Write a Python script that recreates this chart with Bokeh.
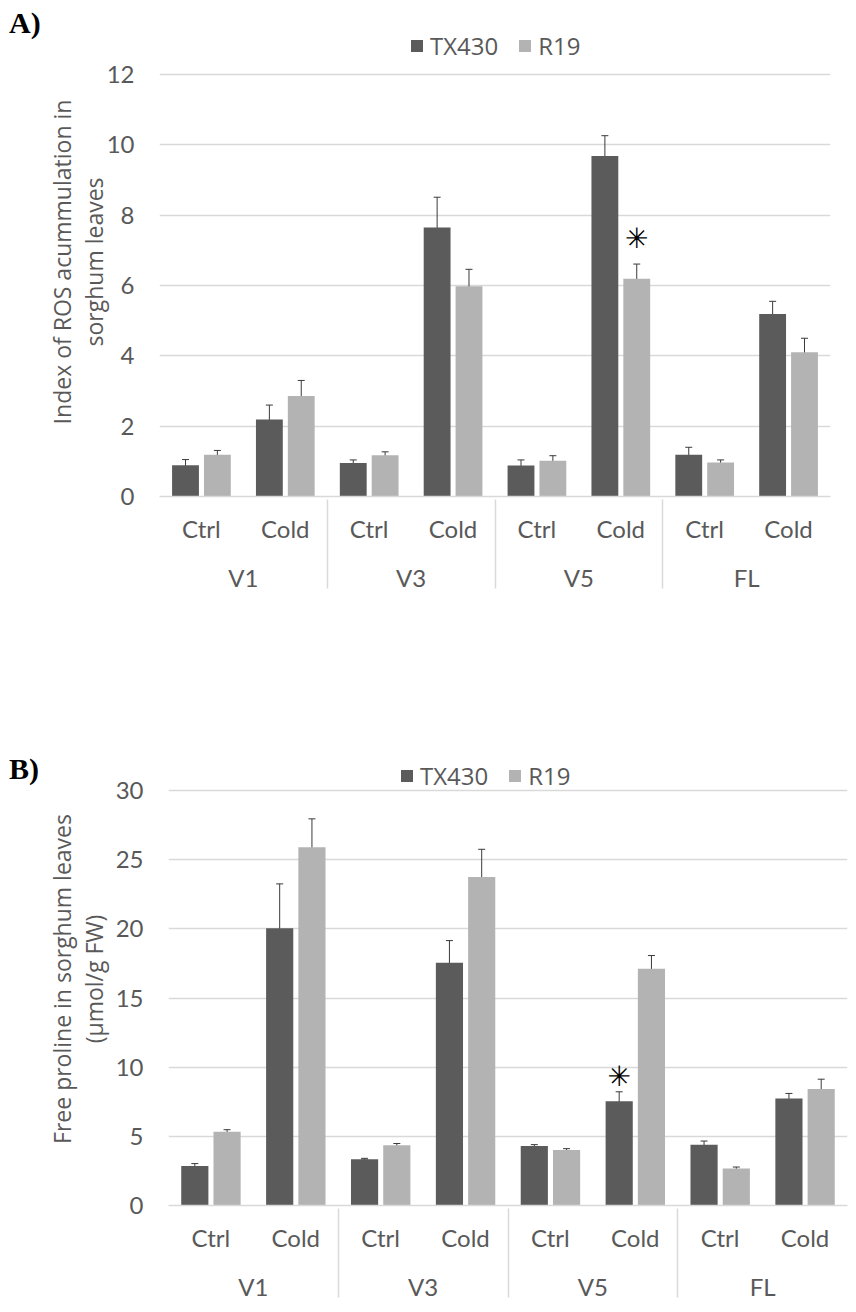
from bokeh.plotting import figure
from bokeh.models import (FactorRange, Range1d, Whisker, ColumnDataSource, Legend, LegendItem,
                          Div, FixedTicker, TeeHead)
from bokeh.transform import dodge
from bokeh.layouts import column, row
from bokeh.embed import file_html
from bokeh.resources import INLINE
from bokeh.core.properties import value

# ---------------- data ----------------
stages = ["V1", "V3", "V5", "FL"]
treatments = ["Ctrl", "Cold"]
series = ["TX430", "R19"]

ros_tx430 = [0.89, 2.19, 0.95, 7.65, 0.88, 9.68, 1.19, 5.19]
ros_tx430_err = [0.16, 0.41, 0.09, 0.86, 0.16, 0.58, 0.21, 0.36]
ros_r19 = [1.19, 2.86, 1.17, 5.98, 1.02, 6.19, 0.97, 4.10]
ros_r19_err = [0.12, 0.44, 0.10, 0.48, 0.14, 0.42, 0.07, 0.40]
ros_ticks = [0, 2, 4, 6, 8, 10, 12]
ros_sig = {"factor": ("V5", "Cold"), "series": "R19", "y": 7.35}

pro_tx430 = [2.85, 20.05, 3.35, 17.55, 4.30, 7.53, 4.39, 7.74]
pro_tx430_err = [0.18, 3.2, 0.06, 1.6, 0.10, 0.69, 0.27, 0.36]
pro_r19 = [5.34, 25.9, 4.35, 23.75, 4.01, 17.12, 2.68, 8.43]
pro_r19_err = [0.14, 2.05, 0.13, 2.0, 0.10, 0.95, 0.10, 0.70]
pro_ticks = [0, 5, 10, 15, 20, 25, 30]
pro_sig = {"factor": ("V5", "Cold"), "series": "TX430", "y": 9.3}

factors = [(s, t) for s in stages for t in treatments]

DARK = "#5b5b5b"
LIGHT = "#b3b3b3"
TXT = "#595959"
GRID = "#d9d9d9"
OFF = 0.19
BW = 0.32
TAG_W = 42


def make_panel(ylabel, tx, txe, r19, r19e, ticks, sig, fw, fh, ytop,
               br, bt, bb, leg_xy, ylab_standoff):
    p = figure(x_range=FactorRange(*factors, group_padding=0, factor_padding=0, range_padding=0),
               y_range=Range1d(ticks[0], ytop),
               frame_width=fw, frame_height=fh, output_backend="svg", toolbar_location=None,
               min_border_left=10, min_border_right=br,
               min_border_top=bt, min_border_bottom=bb)
    p.outline_line_color = None
    p.background_fill_color = "white"
    p.border_fill_color = "white"

    src = ColumnDataSource(dict(
        x=factors, tx=tx, r19=r19,
        tx_up=[v + e for v, e in zip(tx, txe)], tx_lo=[v - e for v, e in zip(tx, txe)],
        r_up=[v + e for v, e in zip(r19, r19e)], r_lo=[v - e for v, e in zip(r19, r19e)],
    ))
    b1 = p.vbar(x=dodge("x", -OFF, range=p.x_range), top="tx", width=BW, source=src,
                fill_color=DARK, line_color=None)
    b2 = p.vbar(x=dodge("x", OFF, range=p.x_range), top="r19", width=BW, source=src,
                fill_color=LIGHT, line_color=None)
    for off, up, lo in ((-OFF, "tx_up", "tx_lo"), (OFF, "r_up", "r_lo")):
        w = Whisker(source=src, base=dodge("x", off, range=p.x_range), upper=up, lower=lo,
                    line_color="#3a3a3a", line_width=1,
                    upper_head=TeeHead(size=7, line_color="#3a3a3a", line_width=1),
                    lower_head=TeeHead(size=7, line_color="#3a3a3a", line_width=1))
        p.add_layout(w)

    ssrc = ColumnDataSource(dict(x=[sig["factor"]], y=[sig["y"]], t=["\u2733"]))
    soff = -OFF if sig["series"] == "TX430" else OFF
    p.text(x=dodge("x", soff, range=p.x_range), y="y", text="t", source=ssrc,
           text_align="center", text_baseline="middle", text_font_size="28px",
           text_font_style="bold", text_color="black", text_font=value("DejaVu Sans"))

    # y axis
    p.yaxis.ticker = FixedTicker(ticks=ticks)
    p.yaxis.axis_line_color = None
    p.yaxis.major_tick_line_color = None
    p.yaxis.minor_tick_line_color = None
    p.yaxis.major_tick_out = 0
    p.yaxis.major_label_text_font = "Lato"
    p.yaxis.major_label_text_font_size = "24px"
    p.yaxis.major_label_text_color = TXT
    p.yaxis.major_label_standoff = 25
    p.yaxis.axis_label = ylabel
    p.yaxis.axis_label_text_font = "Open Sans"
    p.yaxis.axis_label_text_font_style = "normal"
    p.yaxis.axis_label_text_font_size = "23px"
    p.yaxis.axis_label_text_line_height = 1.0
    p.yaxis.axis_label_text_color = TXT
    p.yaxis.axis_label_standoff = ylab_standoff

    # x axis (nested categories)
    p.xaxis.axis_line_color = GRID
    p.xaxis.axis_line_width = 1.5
    p.xaxis.major_tick_line_color = None
    p.xaxis.minor_tick_line_color = None
    p.xaxis.major_tick_out = 0
    p.xaxis.major_label_text_font = "Lato"
    p.xaxis.major_label_text_font_size = "24px"
    p.xaxis.major_label_text_color = TXT
    p.xaxis.major_label_standoff = 17
    p.xaxis.group_text_font = "Lato"
    p.xaxis.group_text_font_size = "24px"
    p.xaxis.group_text_color = TXT
    p.xaxis.group_text_font_style = "normal"
    p.xaxis.separator_line_color = GRID
    p.xaxis.separator_line_width = 1.5

    p.xgrid.grid_line_color = None
    p.ygrid.ticker = FixedTicker(ticks=ticks)
    p.ygrid.grid_line_color = GRID
    p.ygrid.grid_line_width = 1.5

    leg = Legend(items=[LegendItem(label="TX430", renderers=[b1]),
                        LegendItem(label="R19", renderers=[b2])],
                 orientation="horizontal", location=leg_xy,
                 glyph_width=15, glyph_height=15, label_standoff=6, spacing=19,
                 label_text_font="Open Sans", label_text_font_size="24px",
                 label_text_color=TXT, background_fill_alpha=0, border_line_color=None,
                 padding=4, margin=0)
    p.add_layout(leg)
    return p


def tag_div(tag, top_pad):
    html = ('<div style="font-family:\'Liberation Serif\',\'Times New Roman\',serif;'
            'font-weight:bold;font-size:30px;line-height:32px;color:black;'
            'padding-left:9px;padding-top:%dpx;white-space:nowrap;">%s</div>' % (top_pad, tag))
    return Div(text=html, width=TAG_W, height=top_pad + 36, margin=0)


# panel A: frame 158..829 ; 12 at y=75, 0 at y=497 (page px)
pa = make_panel("Index of ROS acummulation in\nsorghum leaves",
                ros_tx430, ros_tx430_err, ros_r19, ros_r19_err, ros_ticks, ros_sig,
                671, 469, 12 * 469 / 422, 19, 27, 170,
                (250, 434), -6)
# panel B: frame 167..846 ; 30 at y=792
pb = make_panel("Free proline in sorghum leaves\n(\u00b5mol/g FW)",
                pro_tx430, pro_tx430_err, pro_r19, pro_r19_err, pro_ticks, pro_sig,
                679, 453, 30 * 453 / 415, 2, 86, 97,
                (231, 413), 3)

layout = column(row(tag_div("A)", 7), pa, spacing=0),
                row(tag_div("B)", 87), pb, spacing=0), spacing=0)
open("out.html", "w").write(file_html(layout, INLINE))
